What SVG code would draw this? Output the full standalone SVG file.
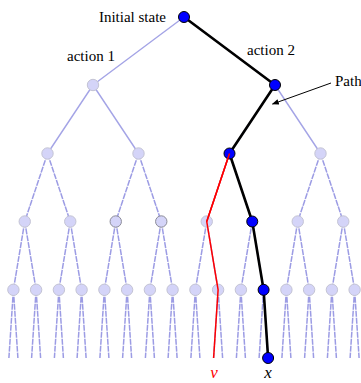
<svg xmlns="http://www.w3.org/2000/svg" width="361" height="383" viewBox="0 0 361 383">
<style>
.e{stroke:#a4a4e6;stroke-width:1.4;fill:none}
.d{stroke:#9c9ce4;stroke-width:1.5;fill:none;stroke-dasharray:6 1}
.n{fill:#d4d4f8;stroke:#c4c4d4;stroke-width:1}
.g{fill:#d4d4f8;stroke:#8c8c98;stroke-width:1}
.b{fill:#0000ff;stroke:#000;stroke-width:1}
.p{stroke:#000;stroke-width:2.6;fill:none;stroke-linejoin:round}
.r{stroke:#ff0000;stroke-width:1.5;fill:none}
.t{font-family:"Liberation Serif","Times New Roman",serif;font-size:15px;fill:#000}
.i{font-family:"Liberation Serif","Times New Roman",serif;font-size:17px;font-style:italic}
</style>
<defs>
<marker id="ah" viewBox="0 0 10 10" refX="9" refY="5" markerWidth="7" markerHeight="7" orient="auto" markerUnits="userSpaceOnUse">
<path d="M0,1 L10,5 L0,9 z" fill="#000"/>
</marker>
</defs>
<rect width="361" height="383" fill="#fff"/>
<g id="connectors">
<path class="e" d="M184,17 L93,85 M184,17 L275,85 M93,85 L47.5,153.5 M93,85 L138.5,153.5 M275,85 L229.5,153.5 M275,85 L320.5,153.5"/>
<path class="d" d="M47.5,153.5 L24.75,221.5 M47.5,153.5 L70.25,221.5 M138.5,153.5 L115.75,221.5 M138.5,153.5 L161.25,221.5 M229.5,153.5 L206.75,221.5 M229.5,153.5 L252.25,221.5 M320.5,153.5 L297.75,221.5 M320.5,153.5 L343.25,221.5"/>
<path class="d" d="M24.75,221.5 L13.4,289.8 M24.75,221.5 L36.1,289.8 M70.25,221.5 L58.9,289.8 M70.25,221.5 L81.6,289.8 M115.75,221.5 L104.4,289.8 M115.75,221.5 L127.1,289.8 M161.25,221.5 L149.9,289.8 M161.25,221.5 L172.6,289.8 M206.75,221.5 L195.4,289.8 M206.75,221.5 L218.1,289.8 M252.25,221.5 L240.9,289.8 M252.25,221.5 L263.6,289.8 M297.75,221.5 L286.4,289.8 M297.75,221.5 L309.1,289.8 M343.25,221.5 L331.9,289.8 M343.25,221.5 L354.6,289.8"/>
<path class="d" d="M13.4,289.8 L8.9,358 M13.4,289.8 L17.9,358 M36.1,289.8 L31.6,358 M36.1,289.8 L40.6,358 M58.9,289.8 L54.4,358 M58.9,289.8 L63.4,358 M81.6,289.8 L77.1,358 M81.6,289.8 L86.1,358 M104.4,289.8 L99.9,358 M104.4,289.8 L108.9,358 M127.1,289.8 L122.6,358 M127.1,289.8 L131.6,358 M149.9,289.8 L145.4,358 M149.9,289.8 L154.4,358 M172.6,289.8 L168.1,358 M172.6,289.8 L177.1,358 M195.4,289.8 L190.9,358 M195.4,289.8 L199.9,358 M218.1,289.8 L213.6,358 M218.1,289.8 L222.6,358 M240.9,289.8 L236.4,358 M240.9,289.8 L245.4,358 M263.6,289.8 L259.1,358 M263.6,289.8 L268.1,358 M286.4,289.8 L281.9,358 M286.4,289.8 L290.9,358 M309.1,289.8 L304.6,358 M309.1,289.8 L313.6,358 M331.9,289.8 L327.4,358 M331.9,289.8 L336.4,358 M354.6,289.8 L350.1,358 M354.6,289.8 L359.1,358"/>
</g>
<g id="nodes">
<g id="n1a"><circle class="n" cx="93" cy="85" r="5.7"/></g>
<g id="n2a"><circle class="n" cx="47.5" cy="153.5" r="5.7"/></g>
<g id="n2b"><circle class="n" cx="138.5" cy="153.5" r="5.7"/></g>
<g id="n2d"><circle class="n" cx="320.5" cy="153.5" r="5.7"/></g>
<g id="n3a"><circle class="n" cx="24.75" cy="221.5" r="5.7"/></g>
<g id="n3b"><circle class="n" cx="70.25" cy="221.5" r="5.7"/></g>
<g id="n3c"><circle class="g" cx="115.75" cy="221.5" r="5.7"/></g>
<g id="n3d"><circle class="g" cx="161.25" cy="221.5" r="5.7"/></g>
<g id="n3e"><circle class="n" cx="206.75" cy="221.5" r="5.7"/></g>
<g id="n3g"><circle class="n" cx="297.75" cy="221.5" r="5.7"/></g>
<g id="n3h"><circle class="n" cx="343.25" cy="221.5" r="5.7"/></g>
<g id="n4a"><circle class="n" cx="13.4" cy="289.8" r="5.7"/></g>
<g id="n4b"><circle class="n" cx="36.1" cy="289.8" r="5.7"/></g>
<g id="n4c"><circle class="n" cx="58.9" cy="289.8" r="5.7"/></g>
<g id="n4d"><circle class="n" cx="81.6" cy="289.8" r="5.7"/></g>
<g id="n4e"><circle class="n" cx="104.4" cy="289.8" r="5.7"/></g>
<g id="n4f"><circle class="n" cx="127.1" cy="289.8" r="5.7"/></g>
<g id="n4g"><circle class="n" cx="149.9" cy="289.8" r="5.7"/></g>
<g id="n4h"><circle class="n" cx="172.6" cy="289.8" r="5.7"/></g>
<g id="n4i"><circle class="n" cx="195.4" cy="289.8" r="5.7"/></g>
<g id="n4j"><circle class="n" cx="218.1" cy="289.8" r="5.7"/></g>
<g id="n4k"><circle class="n" cx="240.9" cy="289.8" r="5.7"/></g>
<g id="n4m"><circle class="n" cx="286.4" cy="289.8" r="5.7"/></g>
<g id="n4n"><circle class="n" cx="309.1" cy="289.8" r="5.7"/></g>
<g id="n4o"><circle class="n" cx="331.9" cy="289.8" r="5.7"/></g>
<g id="n4p"><circle class="n" cx="354.6" cy="289.8" r="5.7"/></g>
</g>
<g id="paths">
<polyline class="p" points="184,17 275,85 229.5,153.5 252.25,221.5 263.6,289.8 268.1,358"/>
<polyline class="r" points="229.5,153.5 206.75,221.5 218.1,289.8 213.6,358"/>
<line x1="331" y1="83" x2="272.5" y2="104" stroke="#000" stroke-width="1" marker-end="url(#ah)"/>
</g>
<g id="path-nodes">
<g id="root"><circle class="b" cx="184" cy="17" r="5.5"/></g>
<g id="n1b"><circle class="b" cx="275" cy="85" r="5.5"/></g>
<g id="n2c"><circle class="b" cx="229.5" cy="153.5" r="5.5"/></g>
<g id="n3f"><circle class="b" cx="252.25" cy="221.5" r="5.5"/></g>
<g id="n4l"><circle class="b" cx="263.6" cy="289.8" r="5.5"/></g>
<g id="n5x"><circle class="b" cx="268.1" cy="358" r="5.5"/></g>
</g>
<polyline class="r" points="229.5,153.5 206.75,221.5"/>
<g id="labels">
<text class="t" x="166" y="22" text-anchor="end">Initial state</text>
<text class="t" x="67" y="61">action 1</text>
<text class="t" x="247" y="55">action 2</text>
<text class="t" x="335" y="86" font-size="13.5">Path</text>
<text class="i" x="214" y="378" text-anchor="middle" fill="#ff0000">v</text>
<text class="i" x="268" y="378" text-anchor="middle" fill="#000">x</text>
</g>
</svg>
